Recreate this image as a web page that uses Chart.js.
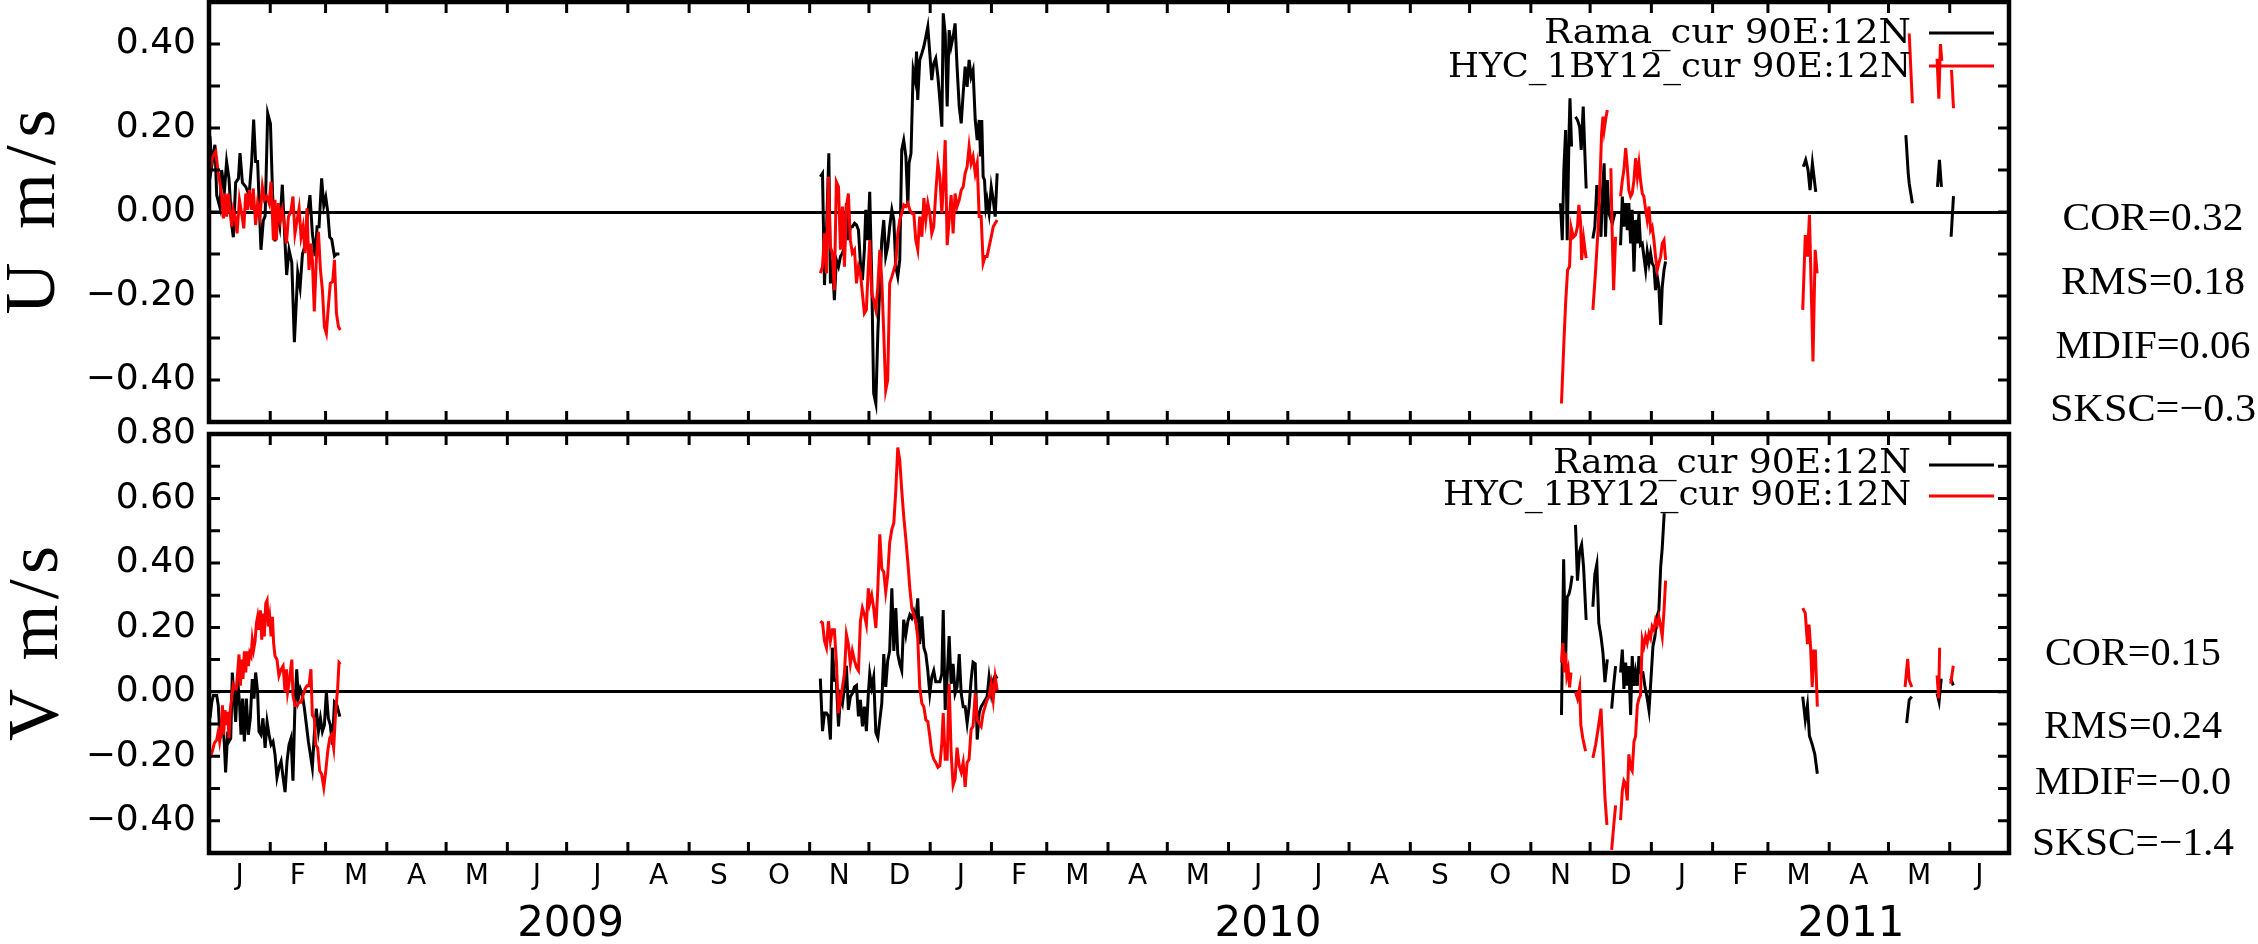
<!DOCTYPE html>
<html>
<head>
<meta charset="utf-8">
<script src="https://cdn.jsdelivr.net/npm/chart.js@4.4.1/dist/chart.umd.min.js"></script>
<style>
  html, body { margin: 0; padding: 0; background: #fff; }
  #wrap { position: relative; width: 2258px; height: 944px; }
  canvas { position: absolute; left: 0; top: 0; }
</style>
</head>
<body>
<div id="wrap">
  <canvas id="chartU" width="2258" height="944"></canvas>
  <canvas id="chartV" width="2258" height="944"></canvas>
</div>
<script>
// x values are days since 1 Jan 2009, y values in m/s, [day, null] = gap in record

const MONTH_LABELS = ['J','F','M','A','M','J','J','A','S','O','N','D',
                      'J','F','M','A','M','J','J','A','S','O','N','D',
                      'J','F','M','A','M','J'];
const YEAR_LABELS = ['2009', '2010', '2011'];
const YEAR_TICKS = [183, 536, 831];   // day where each year label sits

const U_TICKS = [-0.5, -0.4, -0.3, -0.2, -0.1, 0, 0.1, 0.2, 0.3, 0.4, 0.5];
const V_TICKS = [-0.5, -0.4, -0.3, -0.2, -0.1, 0, 0.1, 0.2, 0.3, 0.4, 0.5, 0.6, 0.7, 0.8];

const LEGEND_RAMA = 'Rama_cur 90E:12N';
const LEGEND_HYC = 'HYC_1BY12_cur 90E:12N';
const STATS_U = ['COR=0.32', 'RMS=0.18', 'MDIF=0.06', 'SKSC=\u22120.3'];
const STATS_V = ['COR=0.15', 'RMS=0.24', 'MDIF=\u22120.0', 'SKSC=\u22121.4'];

// U component, mooring (black)
const U_RAMA = [
  [0.5,0.18],[1.4,0.11],[3.0,0.16],[3.9,0.04],[5.6,0.01],[6.4,0.10],[7.8,0.05],[8.9,0.12],[10.1,0.08],
  [11.5,-0.03],[12.3,-0.06],[13.5,0.07],[14.9,0.08],[15.7,0.14],[16.9,0.07],[18.6,0.06],[20.3,0.04],
  [21.6,0.12],[22.6,0.22],[23.6,0.12],[24.6,0.12],[26.3,-0.09],[27.5,-0.02],[28.4,-0.01],[29.7,0.235],
  [31.1,0.21],[32.2,0.04],[33.4,-0.07],[34.8,-0.01],[35.8,-0.035],[37.1,0.065],[38.5,-0.075],[39.3,-0.15],
  [40.5,-0.09],[41.9,-0.12],[43.2,-0.31],[44.9,-0.145],[46.1,-0.18],[47.3,-0.10],[48.6,-0.08],[49.8,-0.01],
  [51.1,0.04],[52.3,-0.05],[53.7,-0.105],[54.7,-0.035],[55.7,-0.035],[57.0,0.08],[58.1,0.015],[59.1,0.035],
  [60.1,0.0],[61.1,-0.06],[62.1,-0.065],[63.5,-0.105],[64.6,-0.10],[66.0,-0.10],
  [67,null],
  [309.4,0.084],[310.5,0.092],[311.5,-0.174],[312.5,-0.051],[313.7,0.14],[314.5,-0.17],[315.5,-0.114],
  [316.5,-0.21],[317.5,-0.114],[318.6,-0.13],[319.6,-0.106],[320.6,-0.098],[321.6,-0.083],[322.6,0.021],
  [323.6,-0.067],[324.6,-0.035],[325.6,-0.035],[326.7,-0.027],[327.7,-0.031],[328.7,-0.043],[329.7,-0.122],
  [330.7,-0.162],[331.7,-0.09],[332.4,0.005],[333.4,-0.067],[334.4,0.048],[335.4,-0.154],[336.4,-0.432],
  [337.5,-0.456],[338.5,-0.289],[339.5,-0.178],[340.5,-0.067],[341.5,-0.019],[342.5,-0.106],[343.5,-0.083],
  [344.5,-0.035],[345.6,0.005],[346.6,-0.019],[347.6,-0.13],[348.6,-0.154],[349.6,-0.114],[350.6,0.148],
  [351.6,0.171],[352.7,0.132],[353.7,0.013],[354.3,0.116],[355.3,0.14],[356.4,0.338],[357.4,0.314],
  [358.1,0.382],[358.7,0.267],[359.7,0.362],[360.8,0.378],[361.8,0.394],[362.8,0.417],[363.8,0.441],
  [364.8,0.378],[365.8,0.314],[366.8,0.354],[367.8,0.366],[368.9,0.322],[369.9,0.267],[370.9,0.203],
  [371.6,0.473],[372.6,0.425],[373.6,0.251],[374.6,0.433],[375.6,0.394],[376.6,0.417],[377.6,0.449],
  [378.6,0.346],[379.7,0.251],[380.7,0.211],[381.7,0.283],[382.7,0.346],[383.7,0.298],[384.7,0.362],
  [385.7,0.322],[386.7,0.338],[387.8,0.219],[388.8,0.171],[389.8,0.219],[390.5,0.132],[391.1,0.219],
  [391.8,0.084],[392.5,0.076],[393.2,0.013],[393.8,0.029],[394.8,-0.003],[395.9,0.06],[396.9,0.029],
  [397.9,-0.011],[398.9,0.092],
  [400,null],
  [684.0,0.021],[684.9,-0.067],[685.7,0.10],[686.6,0.195],[687.4,-0.067],[688.3,0.179],[688.8,0.271],[689.6,0.156],
  [690.5,null],
  [691.6,0.227],[692.6,0.219],[693.7,0.203],[694.5,0.148],[695.5,0.251],[696.4,0.132],[697.0,0.056],
  [699,null],
  [700.4,-0.063],[701.4,-0.035],[702.4,0.064],[703.4,0.021],[704.5,-0.059],[705.3,0.052],[706.1,0.116],
  [706.8,-0.059],[707.7,0.076],[708.5,-0.003],[710.2,-0.027],[711.5,-0.003],
  [713,null],
  [714.4,-0.079],[715.3,0.037],[716.1,-0.035],[717.0,0.021],[717.8,-0.043],[718.6,0.021],[719.5,-0.075],
  [720.3,0.005],[721.2,-0.142],[722.0,-0.019],[722.9,-0.075],[723.7,-0.003],[724.5,-0.079],[725.4,-0.075],
  [726.2,-0.106],[727.1,-0.138],[727.9,-0.094],[728.8,-0.122],[729.6,-0.098],[730.4,-0.122],[731.3,-0.130],
  [732.1,-0.186],[733.0,-0.154],[733.8,-0.178],[734.7,-0.269],[735.5,-0.178],[736.4,-0.138],[737.2,-0.118],
  [740,null],
  [806.9,0.108],[808.1,0.124],[809.3,0.10],[810.3,0.052],[811.5,0.116],[813.2,0.048],
  [820,null],
  [858.8,0.183],[860.0,0.092],[860.5,0.068],[862.1,0.021],
  [868,null],
  [874.8,0.06],[875.8,0.124],[876.8,0.06],
  [879,null],
  [881.7,-0.059],[882.9,0.038]
];

// U component, HYCOM 1/12 (red)
const U_HYC = [
  [0.0,0.084],[1.7,0.13],[3.4,0.144],[4.7,0.092],[6.1,0.052],[7.3,-0.015],[8.1,0.044],[8.9,-0.011],
  [9.8,0.044],[10.6,0.005],[11.5,-0.035],[12.3,0.005],[13.2,-0.011],[14.2,-0.051],[15.4,0.029],[16.5,-0.003],
  [17.6,-0.039],[18.6,0.044],[19.6,0.005],[20.4,0.052],[21.6,0.005],[22.4,0.056],[23.6,-0.031],[24.6,0.021],
  [25.8,-0.011],[27.0,0.06],[28.0,0.029],[29.2,0.037],[30.4,0.021],[31.4,0.072],[32.6,-0.067],[33.4,0.029],
  [34.1,-0.067],[35.1,0.021],[36.1,-0.019],[37.1,0.005],[38.1,-0.027],[39.2,-0.075],[40.2,-0.011],[41.4,0.0],
  [42.5,0.037],[43.5,-0.051],[44.6,-0.019],[45.6,0.009],[46.6,-0.059],[47.6,-0.035],[48.6,-0.098],[49.6,0.009],
  [50.6,-0.138],[51.6,-0.075],[52.3,-0.114],[53.3,-0.237],[54.3,-0.114],[55.4,-0.047],[56.4,-0.138],
  [57.4,-0.186],[58.4,-0.273],[59.4,-0.289],[60.4,-0.225],[61.4,-0.170],[62.6,-0.166],[63.5,-0.114],
  [64.5,-0.241],[65.5,-0.273],[66.5,-0.281],
  [67,null],
  [309.4,-0.146],[310.5,-0.13],[311.5,-0.051],[312.5,-0.146],[313.5,0.084],[314.5,-0.083],[315.5,-0.098],
  [316.5,-0.186],[317.5,0.072],[318.6,0.06],[319.6,-0.09],[320.6,0.013],[321.6,-0.13],[322.6,0.013],
  [323.6,0.044],[324.6,-0.067],[325.6,-0.098],[326.7,-0.09],[327.7,-0.17],[328.7,-0.13],[329.7,-0.146],
  [330.7,-0.194],[331.7,-0.241],[332.7,-0.233],[333.7,-0.13],[334.4,-0.067],[335.4,-0.194],[336.4,-0.21],
  [337.5,-0.233],[338.5,-0.178],[339.5,-0.09],[340.5,-0.162],[341.5,-0.289],[342.5,-0.424],[343.5,-0.40],
  [344.5,-0.17],[345.6,-0.154],[346.6,-0.138],[347.6,-0.122],[348.6,-0.051],[349.6,-0.019],[350.6,-0.003],
  [351.6,0.017],[352.7,0.013],[353.7,0.021],[354.7,0.005],[355.7,-0.003],[356.7,-0.003],[357.7,-0.067],
  [358.7,-0.09],[359.7,-0.011],[360.8,-0.059],[361.8,0.033],[362.8,-0.019],[363.8,0.021],[364.8,-0.003],
  [365.8,-0.051],[366.8,-0.035],[367.8,0.044],[368.9,0.116],[369.9,0.084],[370.9,-0.003],[371.6,0.06],
  [372.6,0.171],[373.6,-0.079],[374.6,-0.019],[375.6,0.04],[376.6,-0.051],[377.6,0.044],[378.6,0.013],
  [379.7,0.029],[380.7,0.052],[381.7,0.06],[382.7,0.092],[383.7,0.108],[384.7,0.156],[385.7,0.116],
  [386.7,0.132],[387.8,0.092],[388.8,0.116],[389.8,-0.011],[390.8,-0.011],[391.8,-0.122],[392.8,-0.106],
  [393.8,-0.106],[394.8,-0.083],[395.9,-0.059],[396.9,-0.035],[397.9,-0.027],[398.9,-0.019],
  [400,null],
  [684.5,-0.456],[685.7,-0.313],[686.6,-0.217],[687.6,-0.138],[688.6,-0.130],[689.3,-0.035],[690.5,-0.06],
  [691.6,-0.055],[692.6,-0.035],[693.3,0.017],[694.2,-0.027],[694.7,-0.114],[695.7,-0.063],[696.4,-0.09],[697.0,-0.110],
  [699,null],
  [700.4,-0.233],[701.8,-0.138],[703.1,-0.035],[703.9,0.06],[704.8,0.187],[705.5,0.227],[706.1,0.195],
  [706.8,0.219],[707.7,0.243],
  [708.6,null],
  [709.5,0.104],[710.2,-0.059],[710.9,-0.186],[711.9,-0.059],
  [713,null],
  [714.4,0.037],[715.3,0.076],[716.1,0.10],[717.0,0.152],[717.8,0.108],[718.6,0.052],[719.5,0.037],
  [720.3,0.044],[721.2,0.076],[722.0,0.128],[722.9,0.084],[723.7,0.116],[724.5,0.076],[725.4,0.044],
  [726.2,0.037],[727.1,0.005],[727.9,-0.019],[728.8,0.013],[729.6,-0.043],[730.4,-0.035],[731.3,-0.067],
  [732.1,-0.106],[733.0,-0.138],[733.8,-0.122],[734.7,-0.106],[735.5,-0.075],[736.4,-0.067],[737.2,-0.114],
  [740,null],
  [806.6,-0.233],[807.9,-0.055],[809.0,-0.106],[810.0,-0.007],[811.8,-0.356],[812.9,-0.09],[813.9,-0.146],
  [820,null],
  [860.5,0.425],[862.1,0.259],
  [868,null],
  [874.6,0.365],[875.5,0.27],[876.3,0.40],[877.0,0.36],
  [879,null],
  [881.9,0.338],[882.9,0.247]
];

// V component, mooring (black)
const V_RAMA = [
  [0.5,-0.082],[1.4,-0.032],[2.2,-0.011],[3.9,-0.011],[4.7,-0.042],[5.6,-0.144],[6.8,-0.082],[7.8,-0.164],
  [8.4,-0.25],[9.5,-0.123],[10.1,-0.154],[11.0,-0.144],[11.8,0.06],[12.5,0.0],[13.5,-0.093],[14.5,0.04],
  [15.5,-0.042],[16.2,-0.133],[17.0,-0.021],[17.9,-0.154],[18.9,-0.021],[19.9,-0.133],[20.9,-0.082],
  [21.9,0.04],[22.8,-0.021],[23.6,0.06],[24.6,0.0],[25.3,-0.123],[26.3,-0.133],[27.3,-0.082],[28.4,-0.174],
  [29.4,-0.093],[30.4,-0.133],[31.4,-0.164],[32.4,-0.154],[33.4,-0.194],[34.4,-0.266],[35.4,-0.235],
  [36.5,-0.215],[37.5,-0.266],[38.5,-0.311],[39.5,-0.215],[40.5,-0.164],[41.5,-0.144],[42.5,-0.276],
  [43.5,-0.042],[44.4,0.07],[45.2,-0.021],[46.2,0.009],[47.3,-0.011],[48.3,-0.052],[49.3,-0.103],
  [50.3,-0.154],[51.3,-0.194],[52.3,-0.235],[53.3,-0.133],[54.3,-0.052],[55.4,-0.123],[56.4,-0.082],
  [57.4,-0.123],[58.4,-0.103],[59.4,0.0],[60.4,-0.082],[61.4,-0.103],[62.4,-0.164],[63.5,-0.032],
  [64.8,-0.042],[66.2,-0.077],
  [67,null],
  [309.4,0.041],[310.5,-0.122],[311.5,-0.066],[312.5,-0.066],[313.5,-0.076],[314.5,-0.148],[315.5,0.137],
  [316.5,0.036],[317.5,0.036],[318.6,-0.107],[319.6,-0.015],[320.6,-0.036],[321.6,0.015],[322.6,0.081],
  [323.6,-0.056],[324.6,-0.015],[325.6,-0.005],[326.7,0.015],[327.7,0.02],[328.7,-0.076],[329.7,-0.025],
  [330.7,-0.107],[331.7,-0.046],[332.7,-0.122],[333.7,-0.005],[334.4,0.056],[335.4,0.015],[336.4,0.046],
  [337.5,-0.127],[338.5,-0.142],[339.5,-0.087],[340.5,-0.036],[341.5,0.117],[342.5,0.015],[343.5,0.097],
  [344.5,0.127],[345.6,0.321],[346.6,0.127],[347.6,0.26],[348.6,0.117],[349.6,0.087],[350.6,0.066],
  [351.6,0.224],[352.7,0.178],[353.7,0.219],[354.7,0.239],[355.7,0.229],[356.7,0.249],[357.7,0.219],
  [358.7,0.29],[359.7,0.148],[360.8,0.234],[361.8,0.137],[362.8,0.117],[363.8,0.066],[364.8,-0.005],
  [365.8,0.046],[366.8,0.066],[367.8,0.031],[368.9,0.031],[369.9,0.031],[370.9,0.056],[371.6,0.254],
  [372.6,-0.056],[373.6,0.046],[374.6,0.173],[375.6,0.025],[376.6,0.087],[377.6,-0.005],[378.6,0.015],
  [379.7,0.117],[380.7,-0.005],[381.7,-0.046],[382.7,-0.046],[383.7,-0.097],[384.7,-0.046],[385.7,0.036],
  [386.7,0.092],[387.8,0.087],[388.8,-0.148],[389.8,-0.066],[390.8,-0.046],[391.8,-0.036],[392.8,-0.025],
  [393.8,-0.015],[394.8,0.046],[395.9,-0.005],[396.9,0.036],[397.9,0.051],[398.9,0.041],
  [400,null],
  [684.5,-0.072],[685.6,0.411],[686.6,0.101],[687.4,0.294],[688.3,0.304],[689.1,0.325],[689.9,0.36],
  [690.7,null],
  [691.6,0.518],[692.6,0.345],[693.7,0.437],[694.7,0.457],[695.7,0.386],[697.0,0.223],
  [699,null],
  [700.4,0.264],[701.4,0.365],[702.4,0.396],[703.4,0.213],[704.5,0.172],[705.5,0.121],[706.5,0.03],[707.7,0.101],
  [708.8,null],
  [709.9,-0.052],[710.9,0.019],[711.9,0.08],
  [713,null],
  [714.4,0.06],[715.3,0.131],[716.1,0.009],[717.0,0.091],[717.8,0.019],[718.6,0.08],[719.5,-0.072],
  [720.3,0.111],[721.2,0.019],[722.0,0.06],[722.9,0.019],[723.7,0.111],[724.5,0.06],[725.7,0.06],
  [726.7,0.019],[727.9,-0.021],[728.8,-0.057],[729.8,0.04],[730.8,0.141],[731.8,0.172],[732.8,0.233],
  [733.8,0.253],[734.7,0.386],[735.5,0.447],[736.5,0.554],
  [740,null],
  [806.6,-0.015],[807.9,-0.087],[809.0,-0.041],[810.0,-0.137],[811.4,-0.163],[812.7,-0.193],[814.0,-0.254],
  [820,null],
  [859.2,-0.097],[860.5,-0.025],[861.8,-0.015],
  [868,null],
  [874.6,-0.005],[875.6,-0.031],[876.7,0.041],
  [879,null],
  [881.5,0.041],[882.8,0.02]
];

// V component, HYCOM 1/12 (red)
const V_HYC = [
  [0.5,-0.205],[1.7,-0.184],[2.7,-0.159],[3.9,-0.149],[4.7,-0.123],[5.4,-0.154],[6.1,-0.123],[6.8,-0.042],
  [7.4,-0.133],[8.1,-0.057],[8.8,-0.103],[9.5,-0.062],[10.1,-0.144],[10.8,-0.052],[11.5,-0.021],[12.2,0.019],
  [12.8,0.009],[13.8,0.009],[14.5,0.06],[15.2,0.116],[15.9,0.019],[16.5,0.10],[17.2,0.04],[17.9,0.126],
  [18.6,0.06],[19.2,0.126],[19.9,0.08],[20.6,0.121],[21.3,0.111],[21.9,0.162],[22.6,0.131],[23.3,0.157],
  [24.0,0.213],[24.6,0.233],[25.3,0.192],[26.0,0.253],[26.7,0.162],[27.3,0.243],[28.0,0.172],[28.7,0.274],
  [29.4,0.284],[30.0,0.203],[30.7,0.233],[31.4,0.172],[32.1,0.233],[32.7,0.152],[33.4,0.111],[34.4,0.10],
  [35.4,0.05],[36.5,0.07],[37.5,0.08],[38.5,0.0],[39.2,0.07],[39.8,0.0],[40.8,0.04],[41.9,0.10],
  [42.5,-0.011],[43.5,-0.042],[44.6,-0.042],[45.6,-0.032],[46.6,-0.032],[47.6,-0.011],[48.6,0.009],
  [49.6,0.019],[50.6,0.019],[51.6,0.07],[52.3,-0.072],[53.3,-0.082],[54.0,-0.164],[55.0,-0.174],
  [56.0,-0.245],[57.0,-0.255],[58.1,-0.296],[59.1,-0.245],[60.1,-0.184],[61.1,-0.144],[62.1,-0.133],
  [63.1,-0.174],[64.1,-0.062],[65.1,0.009],[65.8,0.091],[66.5,0.086],
  [67,null],
  [309.4,0.219],[310.5,0.214],[311.5,0.158],[312.5,0.137],[313.5,0.219],[314.5,0.158],[315.5,0.193],
  [316.5,0.193],[317.5,0.097],[318.6,-0.066],[319.6,-0.025],[320.6,0.015],[321.6,0.056],[322.6,0.178],
  [323.6,0.148],[324.6,0.087],[325.6,0.127],[326.7,0.097],[327.7,0.076],[328.7,0.066],[329.7,0.219],
  [330.7,0.26],[331.7,0.239],[332.7,0.209],[333.7,0.321],[334.4,0.275],[335.4,0.30],[336.4,0.26],
  [337.5,0.198],[338.5,0.321],[339.5,0.489],[340.5,0.382],[341.5,0.372],[342.5,0.31],[343.5,0.361],
  [344.5,0.463],[345.6,0.504],[346.6,0.524],[347.6,0.626],[348.6,0.758],[349.6,0.718],[350.6,0.626],
  [351.6,0.545],[352.7,0.473],[353.7,0.402],[354.7,0.321],[355.7,0.26],[356.7,0.239],[357.7,0.219],
  [358.7,0.168],[359.7,0.015],[360.8,-0.036],[361.8,-0.046],[362.8,-0.087],[363.8,-0.092],[364.8,-0.137],
  [365.8,-0.188],[366.8,-0.209],[367.8,-0.219],[368.9,-0.234],[369.9,-0.229],[370.9,-0.158],[371.6,-0.066],
  [372.6,-0.209],[373.6,-0.209],[374.6,0.025],[375.6,-0.188],[376.6,-0.29],[377.6,-0.27],[378.6,-0.173],
  [379.7,-0.229],[380.7,-0.249],[381.7,-0.219],[382.7,-0.295],[383.7,-0.219],[384.7,-0.209],[385.7,-0.117],
  [386.7,-0.107],[387.8,-0.005],[388.8,-0.087],[389.8,-0.097],[390.8,-0.107],[391.8,-0.066],[392.8,-0.046],
  [393.8,-0.025],[394.8,-0.015],[395.9,0.025],[396.9,-0.025],[397.9,0.046],[398.9,0.005],
  [400,null],
  [684.5,0.091],[685.2,0.152],[685.9,0.06],[686.6,0.121],[687.2,0.05],[687.9,0.07],[688.6,0.014],[689.3,0.06],
  [690.5,null],
  [691.6,-0.001],[692.6,-0.021],[693.7,0.014],[694.3,-0.103],[695.3,-0.144],[696.7,-0.184],
  [699,null],
  [700.4,-0.205],[701.8,-0.164],[703.1,-0.113],[704.5,-0.052],[705.5,-0.184],[706.5,-0.327],[707.5,-0.413],
  [708.8,null],
  [709.9,-0.49],[710.9,-0.418],[711.9,-0.352],
  [713,null],
  [714.4,-0.398],[715.3,-0.306],[716.1,-0.276],[717.0,-0.286],[717.8,-0.337],[718.6,-0.194],[719.5,-0.235],
  [720.3,-0.245],[721.2,-0.154],[722.0,-0.138],[722.9,-0.042],[723.7,-0.021],[724.5,-0.011],[725.4,0.162],
  [726.2,0.141],[727.1,0.172],[727.9,0.152],[728.8,0.182],[729.6,0.167],[730.4,0.203],[731.3,0.192],
  [732.1,0.223],[733.0,0.208],[733.8,0.233],[734.7,0.203],[735.5,0.172],[736.4,0.253],[737.2,0.345],
  [740,null],
  [806.6,0.26],[807.9,0.244],[809.0,0.148],[809.8,0.209],[810.6,0.137],[811.4,0.015],[812.2,0.127],
  [813.0,0.127],[814.0,-0.046],
  [820,null],
  [858.4,0.015],[859.7,0.102],[860.5,0.036],[861.8,0.015],
  [868,null],
  [874.6,0.051],[875.4,-0.02],[875.9,0.137],
  [879,null],
  [881.5,0.025],[882.8,0.081]
];

// calendar helpers for the month axis
const DAY0 = Date.UTC(2009, 0, 1);
const dayOf = (y, m, d) => (Date.UTC(y, m, d) - DAY0) / 86400000;
const MONTH_EDGES = MONTH_LABELS.map((_, i) => dayOf(2009, i, 1)).concat([dayOf(2009, MONTH_LABELS.length, 1)]);
const MONTH_MIDS = MONTH_LABELS.map((_, i) => (MONTH_EDGES[i] + MONTH_EDGES[i + 1]) / 2);
const X_MAX = MONTH_EDGES[MONTH_EDGES.length - 1];

const toPts = arr => arr.map(p => ({ x: p[0], y: p[1] }));

function fitText(ctx, text, x, y, w, align) {
  const m = ctx.measureText(text).width;
  ctx.save();
  ctx.translate(x, y);
  ctx.scale(w / m, 1);
  ctx.textAlign = align;
  ctx.fillText(text, 0, 0);
  ctx.restore();
}

// frame, inward ticks, legend, stats and axis title
const panelDecor = {
  id: 'panelDecor',
  afterDraw(chart, args, o) {
    const { ctx, chartArea: a } = chart;
    const xs = chart.scales.x, ys = chart.scales.y;
    ctx.save();
    ctx.strokeStyle = '#000';
    ctx.lineWidth = 3;
    ctx.beginPath();
    MONTH_EDGES.forEach(d => {
      const px = xs.getPixelForValue(d);
      ctx.moveTo(px, a.top); ctx.lineTo(px, a.top + 11);
      ctx.moveTo(px, a.bottom); ctx.lineTo(px, a.bottom - 11);
    });
    ys.ticks.forEach(t => {
      const py = ys.getPixelForValue(t.value);
      ctx.moveTo(a.left, py); ctx.lineTo(a.left + 11, py);
      ctx.moveTo(a.right, py); ctx.lineTo(a.right - 11, py);
    });
    ctx.stroke();
    ctx.lineWidth = 4.5;
    ctx.strokeRect(a.left, a.top, a.right - a.left, a.bottom - a.top);

    // legend: text then line sample
    ctx.font = '34px "DejaVu Serif"';
    ctx.textBaseline = 'alphabetic';
    o.legend.forEach(l => {
      ctx.fillStyle = '#000';
      fitText(ctx, l.text, a.right - 98, a.top + l.base, l.width, 'right');
      ctx.strokeStyle = l.color;
      ctx.lineWidth = 3;
      ctx.beginPath();
      ctx.moveTo(a.right - 80, a.top + l.line);
      ctx.lineTo(a.right - 15, a.top + l.line);
      ctx.stroke();
    });

    // statistics beside the panel
    ctx.fillStyle = '#000';
    ctx.font = '40px "Liberation Serif"';
    o.stats.forEach((s, i) => fitText(ctx, s, o.statsX, o.statsY[i], o.statsW[i], 'center'));

    // rotated axis title with wide letter spacing
    ctx.font = '72px "Liberation Serif"';
    const m = ctx.measureText(o.title).width;
    const n = o.title.length;
    ctx.letterSpacing = ((o.titleLen - m) / (n - 1)) + 'px';
    ctx.translate(o.titleX, (a.top + a.bottom) / 2);
    ctx.rotate(-Math.PI / 2);
    ctx.textAlign = 'left';
    ctx.fillText(o.title, -o.titleLen / 2, 0);
    ctx.restore();
  }
};

function yLabel(v) {
  const k = Math.round(v * 10);
  if (k % 2 !== 0 || k === -5 || k === 5) return '';
  return (k < 0 ? '\u2212' : '') + Math.abs(k / 10).toFixed(2);
}

function yScale(min, max, ticks) {
  return {
    type: 'linear', position: 'left', min: min, max: max,
    afterFit: s => { s.width = 209; s.paddingTop = 0; s.paddingBottom = 0; },
    afterBuildTicks: s => { s.ticks = ticks.map(v => ({ value: v })); },
    border: { display: false },
    grid: {
      drawTicks: false,
      lineWidth: 3,
      color: c => (c.tick && Math.abs(c.tick.value) < 1e-9) ? '#000' : 'rgba(0,0,0,0)'
    },
    ticks: {
      padding: 13, color: '#000', autoSkip: false,
      font: { family: 'DejaVu Sans', size: 36 },
      callback: v => yLabel(v)
    }
  };
}

function makeDatasets(hyc, rama) {
  return [
    { label: 'HYC', data: toPts(hyc), borderColor: '#ff0000', borderWidth: 3 },
    { label: 'Rama', data: toPts(rama), borderColor: '#000000', borderWidth: 3 }
  ];
}

const common = {
  responsive: false, animation: false, events: [],
  elements: { point: { radius: 0 }, line: { tension: 0 } },
  spanGaps: false
};

new Chart(document.getElementById('chartU'), {
  type: 'line',
  data: { datasets: makeDatasets(U_HYC, U_RAMA) },
  options: Object.assign({}, common, {
    layout: { padding: { left: 0, right: 249, top: 2, bottom: 522 } },
    scales: {
      x: { type: 'linear', min: 0, max: X_MAX, display: false },
      y: yScale(-0.5, 0.5, U_TICKS)
    },
    plugins: {
      legend: { display: false }, tooltip: { enabled: false },
      panelDecor: {
        legend: [
          { text: LEGEND_RAMA, color: '#000', base: 41, line: 31, width: 367 },
          { text: LEGEND_HYC, color: '#ff0000', base: 75, line: 64, width: 463 }
        ],
        stats: STATS_U, statsX: 2153, statsY: [230, 294, 358, 421], statsW: [181, 184, 195, 206],
        title: 'U m/s', titleX: 54, titleLen: 205
      }
    }
  }),
  plugins: [panelDecor]
});

new Chart(document.getElementById('chartV'), {
  type: 'line',
  data: { datasets: makeDatasets(V_HYC, V_RAMA) },
  options: Object.assign({}, common, {
    layout: { padding: { left: 0, right: 249, top: 434, bottom: 0 } },
    scales: {
      x: {
        type: 'linear', position: 'bottom', min: 0, max: X_MAX, weight: 0,
        afterFit: s => { s.height = 40; },
        afterBuildTicks: s => { s.ticks = MONTH_MIDS.map(v => ({ value: v })); },
        border: { display: false }, grid: { display: false, drawTicks: false },
        ticks: {
          padding: 7, color: '#000', autoSkip: false, maxRotation: 0,
          font: { family: 'DejaVu Sans', size: 28 },
          callback: (v, i) => MONTH_LABELS[i]
        }
      },
      years: {
        type: 'linear', axis: 'x', position: 'bottom', min: 0, max: X_MAX, weight: 1,
        afterFit: s => { s.height = 51; },
        afterBuildTicks: s => { s.ticks = YEAR_TICKS.map(v => ({ value: v })); },
        border: { display: false }, grid: { display: false, drawTicks: false },
        ticks: {
          padding: 7, color: '#000', autoSkip: false, maxRotation: 0,
          font: { family: 'DejaVu Sans', size: 42 },
          callback: (v, i) => YEAR_LABELS[i]
        }
      },
      y: yScale(-0.5, 0.8, V_TICKS)
    },
    plugins: {
      legend: { display: false }, tooltip: { enabled: false },
      panelDecor: {
        legend: [
          { text: LEGEND_RAMA, color: '#000', base: 39, line: 31, width: 358 },
          { text: LEGEND_HYC, color: '#ff0000', base: 71, line: 62, width: 468 }
        ],
        stats: STATS_V, statsX: 2133, statsY: [665, 738, 794, 855], statsW: [176, 178, 196, 202],
        title: 'V m/s', titleX: 57, titleLen: 195
      }
    }
  }),
  plugins: [panelDecor]
});
</script>
</body>
</html>
